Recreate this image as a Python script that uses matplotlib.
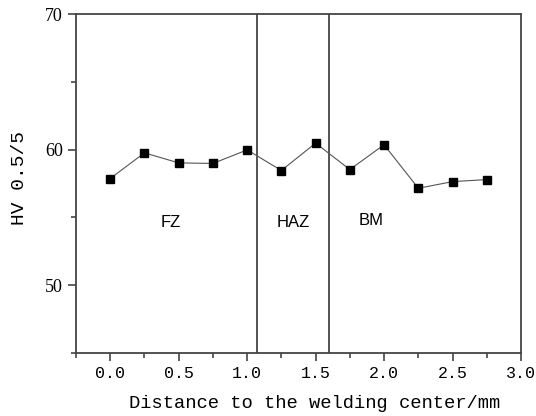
import numpy as np
import matplotlib
matplotlib.use("Agg")
from matplotlib import pyplot as plt
from matplotlib.ticker import MultipleLocator, FuncFormatter

# Hardness profile across the weld
distance = [0.0, 0.25, 0.5, 0.75, 1.0, 1.25, 1.5, 1.75, 2.0, 2.25, 2.5, 2.75]
hardness = [57.87, 59.76, 59.02, 58.98, 59.98, 58.46, 60.48, 58.53, 60.36, 57.15, 57.64, 57.79]

# Zone boundaries and labels
boundaries = [1.073, 1.60]
zone_labels = ["FZ", "HAZ", "BM"]
zone_x = [0.44, 1.335, 1.905]
zone_y = [54.6, 54.6, 54.75]

edge = "#444444"

fig = plt.figure(figsize=(5.36, 4.16), dpi=100)
ax = fig.add_axes([0.1418, 0.1514, 0.8302, 0.8149])

ax.plot(distance, hardness, color="#555555", linewidth=0.8,
        marker="s", markersize=5.6, markerfacecolor="black",
        markeredgecolor="black", zorder=3)

for b in boundaries:
    ax.axvline(b, color=edge, linewidth=1.3)

for lab, xx, yy in zip(zone_labels, zone_x, zone_y):
    ax.text(xx, yy, lab, fontsize=12, family="Liberation Sans",
            ha="center", va="center")

ax.set_xlim(-0.25, 3.0)
ax.set_ylim(45, 70)

ax.xaxis.set_major_locator(MultipleLocator(0.5))
ax.xaxis.set_minor_locator(MultipleLocator(0.25))
ax.yaxis.set_major_locator(MultipleLocator(10))
ax.yaxis.set_minor_locator(MultipleLocator(5))
ax.xaxis.set_major_formatter(FuncFormatter(lambda v, p: f"{v:.1f}"))

ax.tick_params(which="both", direction="out", color=edge, width=1.2,
               top=False, right=False)
ax.tick_params(which="major", length=6)
ax.tick_params(which="minor", length=3.5)

for lbl in ax.get_xticklabels():
    lbl.set_family("Liberation Mono")
    lbl.set_fontsize(12)
for lbl in ax.get_yticklabels():
    lbl.set_family("Liberation Serif")
    lbl.set_fontsize(13)

for s in ax.spines.values():
    s.set_color(edge)
    s.set_linewidth(1.3)

ax.set_xlabel("Distance to the welding center/mm", family="Liberation Mono",
              fontsize=13.5)
ax.xaxis.set_label_coords(0.537, -0.125)
ax.set_ylabel("HV 0.5/5", family="Liberation Mono", fontsize=14)
ax.yaxis.set_label_coords(-0.108, 0.516)

fig.savefig("out.png", dpi=100)
